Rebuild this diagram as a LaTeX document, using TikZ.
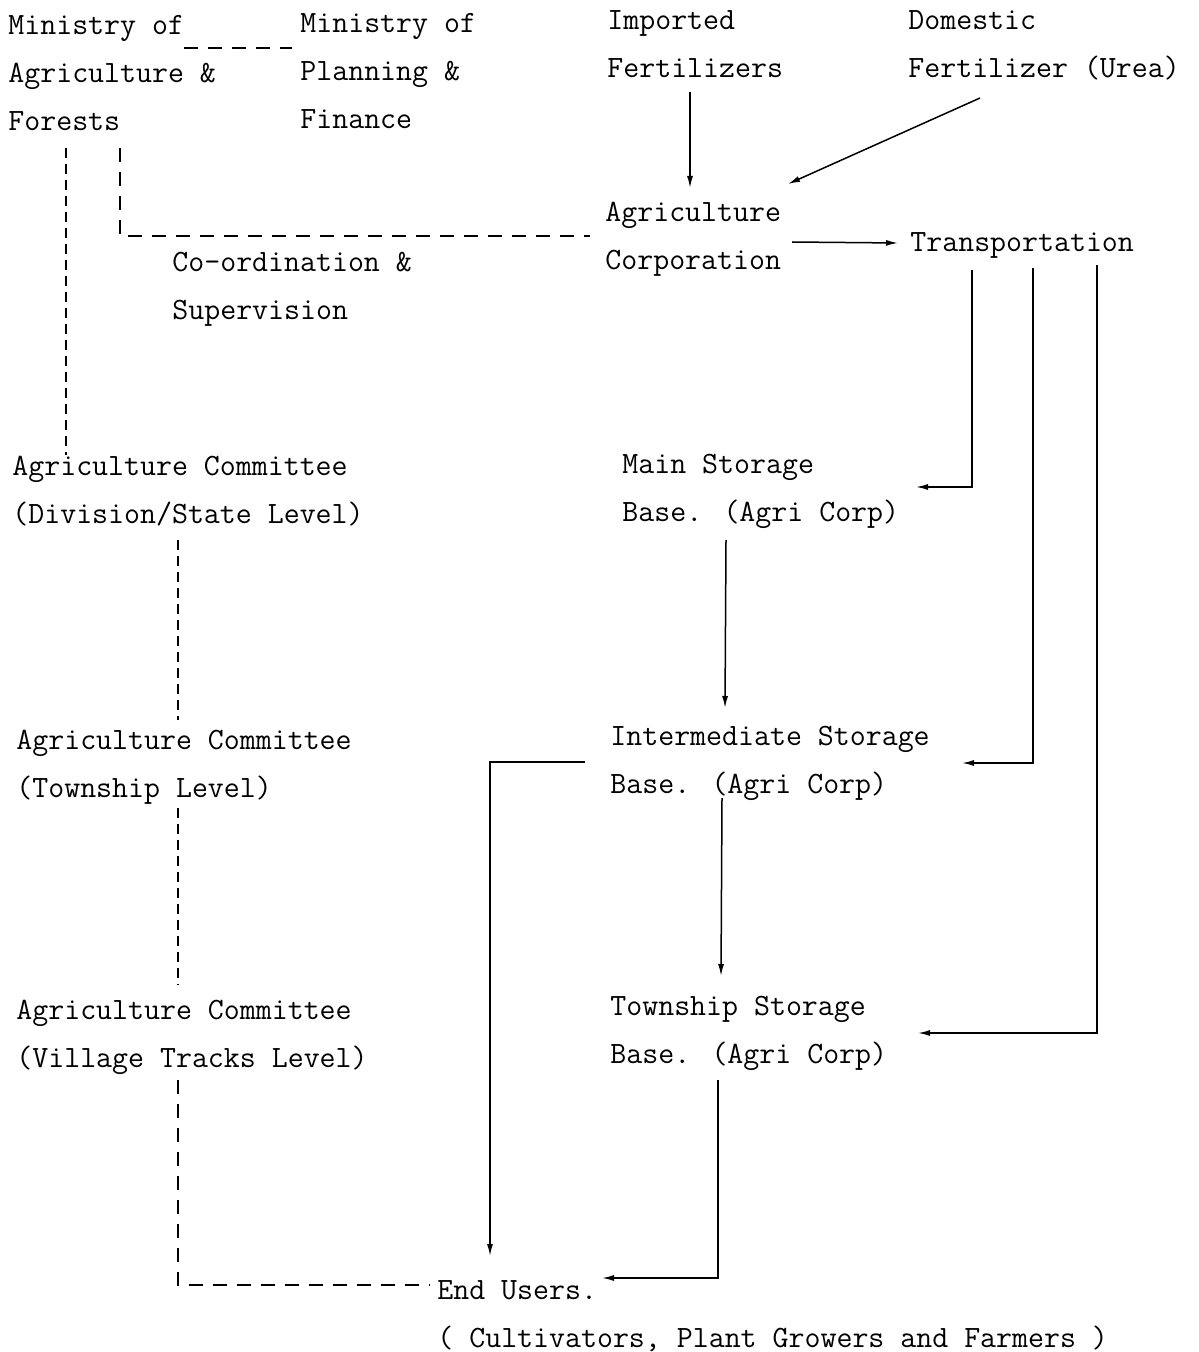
\documentclass[tikz,border=0pt]{standalone}
\usepackage{fontspec}
\usetikzlibrary{arrows.meta}
\begin{document}
\begin{tikzpicture}[x=0.5pt,y=-0.5pt,
  lbl/.style={anchor=north west, inner sep=0pt, align=left,
    font=\ttfamily\fontsize{15.5}{24}\selectfont, execute at begin node=\strut},
  ln/.style={line width=0.75pt},
  arr/.style={ln, -{Latex[length=6pt,width=3pt]}},
  dshh/.style={line width=0.7pt, dash pattern=on 7pt off 5pt},
  dshv/.style={line width=0.7pt, dash pattern=on 5pt off 3pt}]
\useasboundingbox (0,0) rectangle (1198,1352);
% text nodes
\node[lbl] (maf) at (8,15) {Ministry of\\Agriculture \&\\Forests};
\node[lbl] (mpf) at (300,13) {Ministry of\\Planning \&\\Finance};
\node[lbl] (imp) at (607,10) {Imported\\Fertilizers};
\node[lbl] (dom) at (908,10) {Domestic\\Fertilizer (Urea)};
\node[lbl] (agc) at (605,202) {Agriculture\\Corporation};
\node[lbl] (trn) at (910,218) {Transportation};
\node[lbl] (coo) at (172,252) {Co-ordination \&\\Supervision};
\node[lbl] (acd) at (12,456) {Agriculture Committee\\(Division/State Level)};
\node[lbl] (msb) at (622,454) {Main Storage\\Base. (Agri Corp)};
\node[lbl] (act) at (16,730) {Agriculture Committee\\(Township Level)};
\node[lbl] (isb) at (610,726) {Intermediate Storage\\Base. (Agri Corp)};
\node[lbl] (acv) at (16,1000) {Agriculture Committee\\(Village Tracks Level)};
\node[lbl] (tsb) at (610,996) {Township Storage\\Base. (Agri Corp)};
\node[lbl] (end) at (437,1280) {End Users.\\( Cultivators, Plant Growers and Farmers )};
% connector end points
\coordinate (p1) at (184,48);  \coordinate (p2) at (292,48);
\coordinate (p3) at (66,148);  \coordinate (p4) at (66,455);
\coordinate (p5) at (120,148); \coordinate (p6) at (590,236);
\coordinate (q1) at (690,92);  \coordinate (q2) at (690,188);
\coordinate (q3) at (980,98);  \coordinate (q4) at (788,184);
\coordinate (q5) at (792,242); \coordinate (q6) at (898,243);
\coordinate (t1) at (972,270); \coordinate (t2) at (916,487);
\coordinate (t3) at (1033,268);\coordinate (t4) at (962,763);
\coordinate (t5) at (1097,265);\coordinate (t6) at (918,1033);
\coordinate (s1) at (726,540); \coordinate (s2) at (725,708);
\coordinate (s3) at (722,798); \coordinate (s4) at (721,976);
\coordinate (s5) at (585,762); \coordinate (s6) at (490,1256);
\coordinate (s7) at (718,1080);\coordinate (s8) at (602,1278);
\coordinate (c1) at (178,540); \coordinate (c2) at (178,720);
\coordinate (c3) at (178,808); \coordinate (c4) at (178,985);
\coordinate (c5) at (178,1080);\coordinate (c6) at (430,1285);
% dashed (administrative) links
\draw[dshh] (p1) -- (p2);
\draw[dshv] (p3) -- (p4);
\draw[dshh] (p5) |- (p6);
\draw[dshv] (c1) -- (c2);
\draw[dshv] (c3) -- (c4);
\draw[dshh] (c5) |- (c6);
% solid (supply) links
\draw[arr] (q1) -- (q2);
\draw[arr] (q3) -- (q4);
\draw[arr] (q5) -- (q6);
\draw[arr] (t1) |- (t2);
\draw[arr] (t3) |- (t4);
\draw[arr] (t5) |- (t6);
\draw[arr] (s1) -- (s2);
\draw[arr] (s3) -- (s4);
\draw[arr] (s5) -| (s6);
\draw[arr] (s7) |- (s8);
\end{tikzpicture}
\end{document}
